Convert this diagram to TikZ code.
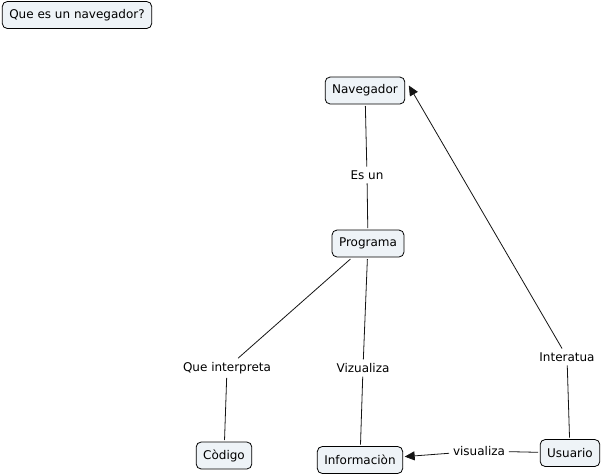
\documentclass[tikz,border=0pt]{standalone}
\usepackage{fontspec}
\setmainfont{DejaVu Sans}
\usepackage{xcolor}
\usepackage{tikz}
\usetikzlibrary{arrows.meta}
\definecolor{conceptfill}{RGB}{238,243,247}
\definecolor{linkgray}{RGB}{20,20,20}

\tikzset{
  concept/.style={draw=black, fill=conceptfill, rounded corners=5pt, line width=0.8pt,
    inner xsep=7pt, minimum height=27pt, font=\fontsize{12}{14}\selectfont, outer sep=2pt},
  linkword/.style={inner sep=2pt, font=\fontsize{12}{14}\selectfont, outer sep=2pt},
  link/.style={draw=linkgray, line width=0.8pt},
  linkarrow/.style={link, -{Triangle[length=10pt,width=9pt]}}
}

\begin{document}
\begin{tikzpicture}[x=1pt, y=-1pt]
  \useasboundingbox (0,0) rectangle (603,475);

  % Title
  \node[concept] (title) at (77,15) {Que es un navegador?};

  % Concepts
  \node[concept] (navegador) at (365,90.5) {Navegador};
  \node[concept] (programa) at (368,243.5) {Programa};
  \node[concept] (codigo) at (224,455.5) {Còdigo};
  \node[concept] (informacion) at (360,460) {Informaciòn};
  \node[concept] (usuario) at (570,453) {Usuario};

  % Linking words
  \node[linkword] (esun) at (367,175) {Es un};
  \node[linkword] (interpreta) at (227,368) {Que interpreta};
  \node[linkword] (vizualiza) at (363,368) {Vizualiza};
  \node[linkword] (visualiza) at (479,451) {visualiza};
  \node[linkword] (interatua) at (567,357) {Interatua};

  % Connections
  \draw[link] (navegador) -- (esun);
  \draw[link] (esun) -- (programa);
  \draw[link] (programa) -- (interpreta);
  \draw[link] (interpreta) -- (codigo);
  \draw[link] (programa) -- (vizualiza);
  \draw[link] (vizualiza) -- (informacion);
  \draw[link] (usuario) -- (visualiza);
  \draw[linkarrow] (visualiza) -- (informacion);
  \draw[link] (usuario) -- (interatua);
  \draw[linkarrow] (interatua) -- ([xshift=2pt,yshift=5pt]navegador.east);

\end{tikzpicture}
\end{document}
